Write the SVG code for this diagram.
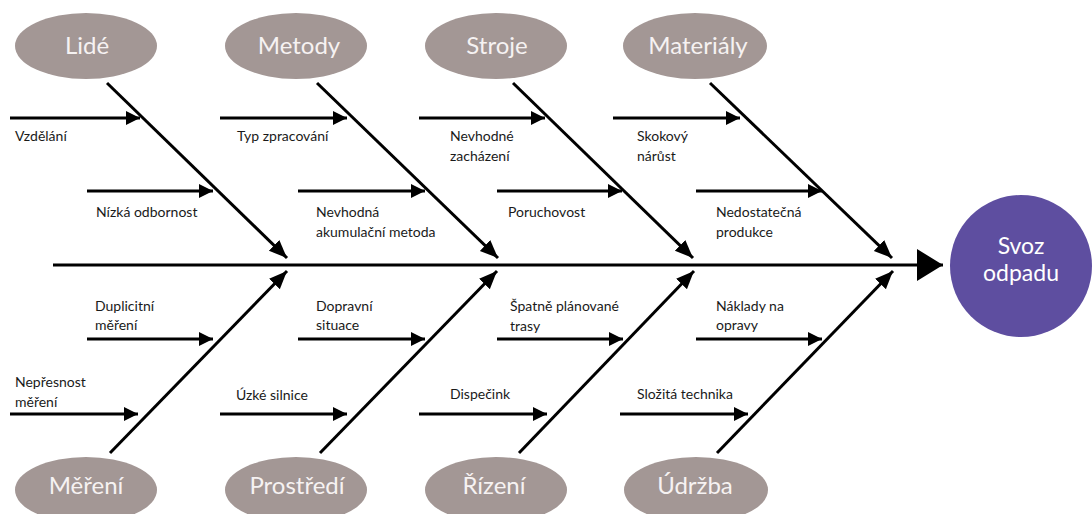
<svg xmlns="http://www.w3.org/2000/svg" width="1092" height="514" viewBox="0 0 1092 514">
<style>
.cat{fill:#A39795;}
.cat-t{font-family:Lato,"Open Sans",sans-serif;font-size:24px;fill:#F6F2F2;text-anchor:middle;}
.lbl{font-family:Lato,"Open Sans",sans-serif;font-size:14px;fill:#1a1a1a;}
.ln{stroke:#000;stroke-width:3;fill:none;}
.res{fill:#5E4EA0;}
.res-t{font-family:Lato,"Open Sans",sans-serif;font-size:23px;fill:#FFFFFF;text-anchor:middle;}
</style>
<defs>
<marker id="ah" markerUnits="userSpaceOnUse" markerWidth="15" markerHeight="15" refX="14" refY="7" orient="auto"><path d="M0,0 L14,7 L0,14 z" fill="#000"/></marker>
<marker id="ad" markerUnits="userSpaceOnUse" markerWidth="20" markerHeight="16" refX="18" refY="7.5" orient="auto"><path d="M0,0 L18,7.5 L0,15 z" fill="#000"/></marker>
<marker id="as" markerUnits="userSpaceOnUse" markerWidth="28" markerHeight="34" refX="26" refY="16" orient="auto"><path d="M0,0 L26,16 L0,32 z" fill="#000"/></marker>
</defs>
<g id="connectors">
<line class="ln" x1="53" y1="265" x2="943" y2="265" marker-end="url(#as)" stroke-width="3.5"/>
<line class="ln" x1="107" y1="83" x2="287" y2="258" marker-end="url(#ad)"/>
<line class="ln" x1="317" y1="83" x2="498" y2="258" marker-end="url(#ad)"/>
<line class="ln" x1="513" y1="83" x2="693" y2="258" marker-end="url(#ad)"/>
<line class="ln" x1="710" y1="83" x2="892" y2="258" marker-end="url(#ad)"/>
<line class="ln" x1="110" y1="453" x2="287" y2="271" marker-end="url(#ad)"/>
<line class="ln" x1="320" y1="453" x2="497" y2="271" marker-end="url(#ad)"/>
<line class="ln" x1="519" y1="453" x2="694" y2="271" marker-end="url(#ad)"/>
<line class="ln" x1="717" y1="453" x2="893" y2="271" marker-end="url(#ad)"/>
<line class="ln" x1="10" y1="118" x2="140" y2="118" marker-end="url(#ah)"/>
<line class="ln" x1="220" y1="118" x2="347" y2="118" marker-end="url(#ah)"/>
<line class="ln" x1="419" y1="118" x2="545" y2="118" marker-end="url(#ah)"/>
<line class="ln" x1="613" y1="118" x2="740" y2="118" marker-end="url(#ah)"/>
<line class="ln" x1="87" y1="191" x2="213" y2="191" marker-end="url(#ah)"/>
<line class="ln" x1="298" y1="191" x2="425" y2="191" marker-end="url(#ah)"/>
<line class="ln" x1="497" y1="191" x2="622" y2="191" marker-end="url(#ah)"/>
<line class="ln" x1="696" y1="191" x2="822" y2="191" marker-end="url(#ah)"/>
<line class="ln" x1="87" y1="339" x2="213" y2="339" marker-end="url(#ah)"/>
<line class="ln" x1="298" y1="339" x2="425" y2="339" marker-end="url(#ah)"/>
<line class="ln" x1="497" y1="339" x2="623" y2="339" marker-end="url(#ah)"/>
<line class="ln" x1="696" y1="339" x2="822" y2="339" marker-end="url(#ah)"/>
<line class="ln" x1="10" y1="414" x2="138" y2="414" marker-end="url(#ah)"/>
<line class="ln" x1="220" y1="414" x2="347" y2="414" marker-end="url(#ah)"/>
<line class="ln" x1="419" y1="414" x2="547" y2="414" marker-end="url(#ah)"/>
<line class="ln" x1="620" y1="414" x2="748" y2="414" marker-end="url(#ah)"/>
</g>
<g id="labels">
<text class="lbl" x="15" y="141">Vzdělání</text>
<text class="lbl" x="96" y="217">Nízká odbornost</text>
<text class="lbl" x="237" y="141">Typ zpracování</text>
<text class="lbl" x="316" y="217">Nevhodná</text>
<text class="lbl" x="316" y="237">akumulační metoda</text>
<text class="lbl" x="450" y="141">Nevhodné</text>
<text class="lbl" x="450" y="161">zacházení</text>
<text class="lbl" x="508" y="217">Poruchovost</text>
<text class="lbl" x="637" y="141">Skokový</text>
<text class="lbl" x="637" y="161">nárůst</text>
<text class="lbl" x="716" y="217">Nedostatečná</text>
<text class="lbl" x="716" y="237">produkce</text>
<text class="lbl" x="95" y="311">Duplicitní</text>
<text class="lbl" x="95" y="330">měření</text>
<text class="lbl" x="15" y="387">Nepřesnost</text>
<text class="lbl" x="15" y="407">měření</text>
<text class="lbl" x="316" y="311">Dopravní</text>
<text class="lbl" x="316" y="330">situace</text>
<text class="lbl" x="236" y="400">Úzké silnice</text>
<text class="lbl" x="510" y="311">Špatně plánované</text>
<text class="lbl" x="510" y="331">trasy</text>
<text class="lbl" x="450" y="399">Dispečink</text>
<text class="lbl" x="716" y="311">Náklady na</text>
<text class="lbl" x="716" y="330">opravy</text>
<text class="lbl" x="637" y="399">Složitá technika</text>
</g>
<g id="lide"><ellipse class="cat" cx="86" cy="46" rx="71" ry="33"/><text class="cat-t" x="87" y="54">Lidé</text></g>
<g id="metody"><ellipse class="cat" cx="296" cy="46" rx="71" ry="33"/><text class="cat-t" x="299" y="54">Metody</text></g>
<g id="stroje"><ellipse class="cat" cx="496" cy="46" rx="71" ry="33"/><text class="cat-t" x="497" y="54">Stroje</text></g>
<g id="materialy"><ellipse class="cat" cx="695" cy="46" rx="72" ry="33"/><text class="cat-t" x="698" y="54">Materiály</text></g>
<g id="mereni"><ellipse class="cat" cx="86" cy="490" rx="71" ry="33"/><text class="cat-t" x="86" y="494">Měření</text></g>
<g id="prostredi"><ellipse class="cat" cx="296" cy="490" rx="71" ry="33"/><text class="cat-t" x="297" y="494">Prostředí</text></g>
<g id="rizeni"><ellipse class="cat" cx="496" cy="490" rx="71" ry="33"/><text class="cat-t" x="494" y="494">Řízení</text></g>
<g id="udrzba"><ellipse class="cat" cx="696" cy="490" rx="72" ry="33"/><text class="cat-t" x="695" y="494">Údržba</text></g>
<g id="svoz"><circle class="res" cx="1021" cy="266" r="71"/><text class="res-t" x="1021" y="254">Svoz</text><text class="res-t" x="1021" y="281">odpadu</text></g>
</svg>
